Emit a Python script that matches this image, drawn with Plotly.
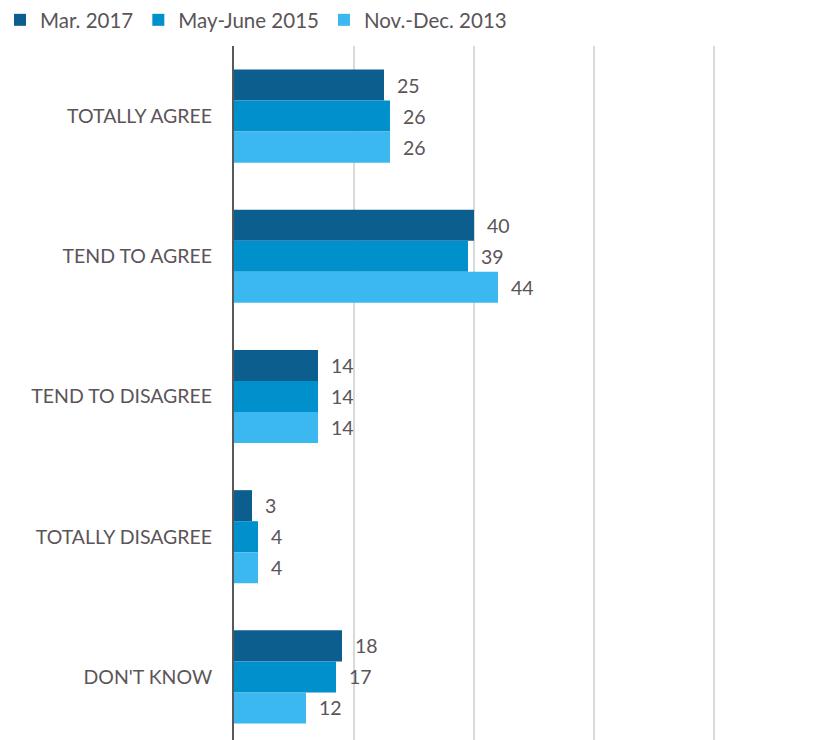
import plotly.graph_objects as go

categories = ["TOTALLY AGREE", "TEND TO AGREE", "TEND TO DISAGREE", "TOTALLY DISAGREE", "DON'T KNOW"]
series_names = ["Mar. 2017", "May-June 2015", "Nov.-Dec. 2013"]
mar_2017 = [25, 40, 14, 3, 18]
may_june_2015 = [26, 39, 14, 4, 17]
nov_dec_2013 = [26, 44, 14, 4, 12]
colors = ["#0c5e8e", "#0090cc", "#3bb8ef"]

text_color = "#5b5459"
font_family = "Lato, 'Open Sans', sans-serif"

fig = go.Figure()
for name, values, color in zip(series_names, [mar_2017, may_june_2015, nov_dec_2013], colors):
    fig.add_trace(go.Bar(
        name=name,
        x=values,
        y=categories,
        orientation="h",
        marker=dict(color=color, line=dict(width=0)),
        text=values,
        texttemplate="\u00a0\u00a0%{x}",
        textposition="outside",
        constraintext="none",
        textfont=dict(size=19.5, color=text_color, family=font_family),
        cliponaxis=False,
    ))

fig.update_layout(
    width=820,
    height=740,
    margin=dict(l=234, r=0, t=46, b=0, autoexpand=False),
    paper_bgcolor="white",
    plot_bgcolor="white",
    barmode="group",
    bargap=0.336,
    bargroupgap=0,
    font=dict(family=font_family, color=text_color, size=19.5),
    legend=dict(
        orientation="h",
        xref="container", x=0, xanchor="left",
        yref="container", y=1, yanchor="top",
        font=dict(size=20.5, color=text_color, family=font_family),
        itemwidth=30,
        traceorder="normal",
        bgcolor="rgba(0,0,0,0)",
    ),
    xaxis=dict(
        range=[0, 97.67],
        tickvals=[0, 20, 40, 60, 80],
        showticklabels=False,
        showgrid=True,
        gridcolor="#d9d9d9",
        gridwidth=2,
        zeroline=False,
        showline=False,
        fixedrange=True,
    ),
    yaxis=dict(
        range=[4.45, -0.5],
        showgrid=False,
        showline=True,
        linecolor="#595959",
        linewidth=2,
        ticks="",
        ticklabelstandoff=16,
        tickfont=dict(size=19.5, color=text_color, family=font_family),
        fixedrange=True,
    ),
)

fig.write_html("out.html")
